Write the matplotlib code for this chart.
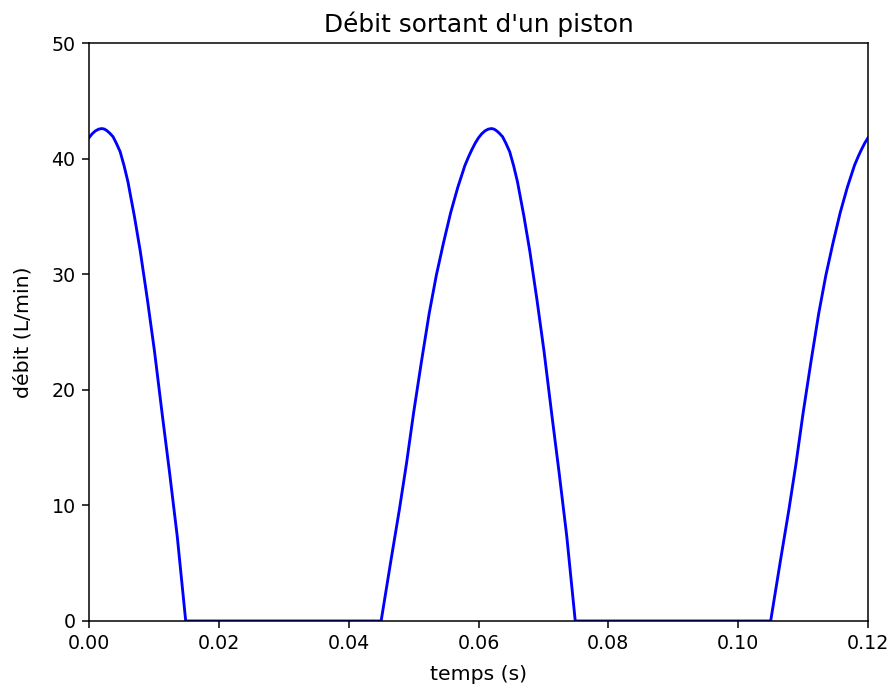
import matplotlib
matplotlib.use("Agg")
import matplotlib.pyplot as plt

# valeurs (temps en s, debit en L/min)
temps = [0.0000, 0.0005, 0.0010, 0.0015, 0.0020, 0.0024, 0.0028, 0.0032, 0.0037,
         0.0042, 0.0048, 0.0054, 0.0060, 0.0070, 0.0079,
         0.0090, 0.0101, 0.0113, 0.0124, 0.0136, 0.0149,
         0.0450,
         0.0465, 0.0478, 0.0489, 0.0500, 0.0512, 0.0524, 0.0535, 0.0546, 0.0557,
         0.0568, 0.0579, 0.0585, 0.0590, 0.0595, 0.0600, 0.0605, 0.0610, 0.0615,
         0.0620, 0.0624, 0.0628, 0.0632, 0.0637, 0.0642, 0.0648, 0.0654,
         0.0660, 0.0670, 0.0679, 0.0690, 0.0701, 0.0713, 0.0724, 0.0736, 0.0749,
         0.1050,
         0.1065, 0.1078, 0.1089, 0.1100, 0.1112, 0.1124, 0.1135, 0.1146, 0.1157,
         0.1168, 0.1179, 0.1185, 0.1190, 0.1195, 0.1200]
debit = [41.8, 42.15, 42.4, 42.55, 42.6, 42.55, 42.4, 42.2, 41.9,
         41.35, 40.6, 39.4, 38.0, 35.0, 32.0,
         27.8, 23.3, 17.8, 12.9, 7.3, 0.0,
         0.0,
         5.2, 9.6, 13.6, 18.0, 22.4, 26.6, 29.9, 32.7, 35.3,
         37.5, 39.4, 40.2, 40.8, 41.35, 41.8, 42.15, 42.4, 42.55,
         42.6, 42.55, 42.4, 42.2, 41.9, 41.35, 40.6, 39.4,
         38.0, 35.0, 32.0, 27.8, 23.3, 17.8, 12.9, 7.3, 0.0,
         0.0,
         5.2, 9.6, 13.6, 18.0, 22.4, 26.6, 29.9, 32.7, 35.3,
         37.5, 39.4, 40.2, 40.8, 41.35, 41.8]

fig = plt.figure(figsize=(896 / 137, 695 / 137), dpi=137)
ax = fig.add_subplot(111)
fig.subplots_adjust(left=0.0993, right=0.9688, top=0.9381, bottom=0.1065)

ax.plot(temps, debit, 'b', linewidth=1.5)
ax.set_xlim(0, 0.12)
ax.set_ylim(0, 50)
ax.set_title(u"Débit sortant d'un piston", fontsize=13)
ax.set_xlabel(u'temps (s)', fontsize=10.7, labelpad=6)
ax.set_ylabel(u'débit (L/min)', fontsize=10.7, labelpad=10)

fig.savefig('out.png', dpi=137)
